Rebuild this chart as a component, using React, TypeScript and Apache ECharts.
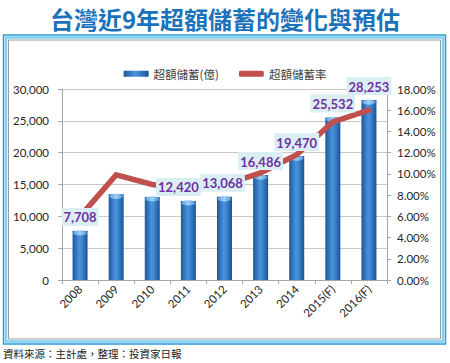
import React, { useEffect, useRef } from "react";
import * as echarts from "echarts";

const titleText = "台灣近9年超額儲蓄的變化與預估";
const sourceText = "資料來源：主計處，整理：投資家日報";
const years = ["2008", "2009", "2010", "2011", "2012", "2013", "2014", "2015(F)", "2016(F)"];
const savings = [7708, 13450, 13050, 12420, 13068, 16486, 19470, 25532, 28253];
const savingsRate = [6.0, 9.9, 9.0, 8.6, 9.0, 10.1, 11.8, 14.9, 16.0];
const labeledYears = ["2008", "2011", "2012", "2013", "2014", "2015(F)", "2016(F)"];
const barName = "超額儲蓄(億)";
const lineName = "超額儲蓄率";
const leftAxisRange = { min: 0, max: 30000, interval: 5000 };
const rightAxisRange = { min: 0, max: 18, interval: 2 };

const NUM_FONT = "Lato, 'Liberation Sans', sans-serif";
const CJK_FONT = "'Noto Sans CJK TC', 'Noto Sans CJK SC', sans-serif";

export default function App() {
  const ref = useRef<HTMLDivElement>(null);

  useEffect(() => {
    if (!ref.current) return;
    const chart = echarts.init(ref.current, undefined, { renderer: "svg" });

    const labelShift: Record<string, number> = { "2011": -10, "2012": -2 };

    const barGradient = new echarts.graphic.LinearGradient(0, 0, 1, 0, [
      { offset: 0, color: "#1d5799" },
      { offset: 0.45, color: "#4a93dc" },
      { offset: 0.6, color: "#3f88d4" },
      { offset: 1, color: "#1b5293" },
    ]);
    const capGradient = new echarts.graphic.LinearGradient(0, 0, 1, 0, [
      { offset: 0, color: "#5d9fe0" },
      { offset: 0.5, color: "#9fd0f6" },
      { offset: 1, color: "#4d8fd4" },
    ]);

    const axisLineColor = "#a6a6a6";

    const option: any = {
      animation: false,
      backgroundColor: "#ffffff",
      title: {
        text: titleText,
        left: "center",
        top: 1,
        textStyle: {
          fontFamily: CJK_FONT,
          fontSize: 24,
          fontWeight: "bold",
          color: "#1c72ba",
        },
      },
      legend: {
        top: 63,
        left: "center",
        itemWidth: 25,
        itemHeight: 6,
        itemGap: 20,
        textStyle: { fontFamily: CJK_FONT, fontSize: 11.5, color: "#404040" },
        data: [
          { name: barName, icon: "rect" },
          { name: lineName, icon: "roundRect" },
        ],
      },
      grid: { left: 62, right: 63, top: 89, bottom: 83, containLabel: false },
      xAxis: {
        type: "category",
        data: years,
        axisLine: { show: true, lineStyle: { color: axisLineColor, width: 1 } },
        axisTick: { show: true, length: 4, lineStyle: { color: axisLineColor } },
        axisLabel: {
          rotate: 45,
          margin: 7,
          fontFamily: NUM_FONT,
          fontSize: 11.5,
          color: "#262626",
          interval: 0,
        },
      },
      yAxis: [
        {
          type: "value",
          min: leftAxisRange.min,
          max: leftAxisRange.max,
          interval: leftAxisRange.interval,
          axisLine: { show: true, lineStyle: { color: axisLineColor } },
          axisTick: { show: true, length: 4, lineStyle: { color: axisLineColor } },
          axisLabel: {
            margin: 13,
            fontFamily: NUM_FONT,
            fontSize: 11.5,
            color: "#262626",
            formatter: (v: number) => v.toLocaleString("en-US"),
          },
          splitLine: { show: true, lineStyle: { color: "#c8c8c8", width: 1 } },
        },
        {
          type: "value",
          min: rightAxisRange.min,
          max: rightAxisRange.max,
          interval: rightAxisRange.interval,
          position: "right",
          axisLine: { show: true, lineStyle: { color: axisLineColor } },
          axisTick: { show: true, length: 4, lineStyle: { color: axisLineColor } },
          axisLabel: {
            margin: 10,
            fontFamily: NUM_FONT,
            fontSize: 11.5,
            color: "#262626",
            formatter: (v: number) => v.toFixed(2) + "%",
          },
          splitLine: { show: false },
        },
      ],
      series: [
        {
          name: barName,
          type: "bar",
          data: savings,
          barWidth: 15,
          z: 2,
          itemStyle: { color: barGradient },
        },
        {
          name: "cap",
          type: "pictorialBar",
          data: savings,
          barWidth: 15,
          symbol: "path://M0 5 A10 5 0 1 0 20 5 A10 5 0 1 0 0 5 Z",
          symbolSize: [14, 5],
          symbolPosition: "end",
          symbolOffset: [0, "-10%"],
          z: 3,
          silent: true,
          itemStyle: { color: capGradient },
        },
        {
          name: lineName,
          type: "line",
          yAxisIndex: 1,
          data: savingsRate,
          symbol: "none",
          z: 4,
          lineStyle: { color: "#c0504d", width: 5.5, cap: "round", join: "miter" },
          itemStyle: { color: "#c0504d" },
        },
        {
          name: "labels",
          type: "bar",
          data: savings.map((v, i) => ({
            value: v,
            label: {
              show: labeledYears.includes(years[i]),
              offset: [labelShift[years[i]] || 0, 0],
            },
          })),
          barWidth: 15,
          barGap: "-100%",
          z: 6,
          silent: true,
          itemStyle: { color: "rgba(0,0,0,0)" },
          label: {
            position: "top",
            distance: 5,
            fontFamily: NUM_FONT,
            fontSize: 13,
            fontWeight: "bold",
            color: "#7030a0",
            backgroundColor: "#daeef3",
            padding: [3, 2, 2, 2],
            formatter: (p: any) => Number(p.value).toLocaleString("en-US"),
          },
        },
      ],
      graphic: [
        {
          type: "rect",
          silent: true,
          shape: { x: 3.5, y: 35, width: 442, height: 309 },
          style: { fill: "none", stroke: "#2a9ad6", lineWidth: 1.5 },
        },
        {
          type: "rect",
          silent: true,
          shape: { x: 6, y: 37.5, width: 437, height: 304 },
          style: { fill: "none", stroke: "#7fd0f2", lineWidth: 2.5 },
        },
        {
          type: "rect",
          silent: true,
          shape: { x: 8.5, y: 40, width: 432, height: 299 },
          style: { fill: "none", stroke: "#9c9c9c", lineWidth: 1 },
        },
        {
          type: "text",
          left: 3,
          top: 348,
          silent: true,
          style: {
            text: sourceText,
            fontFamily: CJK_FONT,
            fontSize: 10.5,
            fill: "#222222",
          },
        },
      ],
    };

    chart.setOption(option);
    return () => chart.dispose();
  }, []);

  return (
    <div
      ref={ref}
      style={{
        position: "absolute",
        left: 0,
        top: 0,
        width: 450,
        height: 363,
        background: "#ffffff",
      }}
    />
  );
}
